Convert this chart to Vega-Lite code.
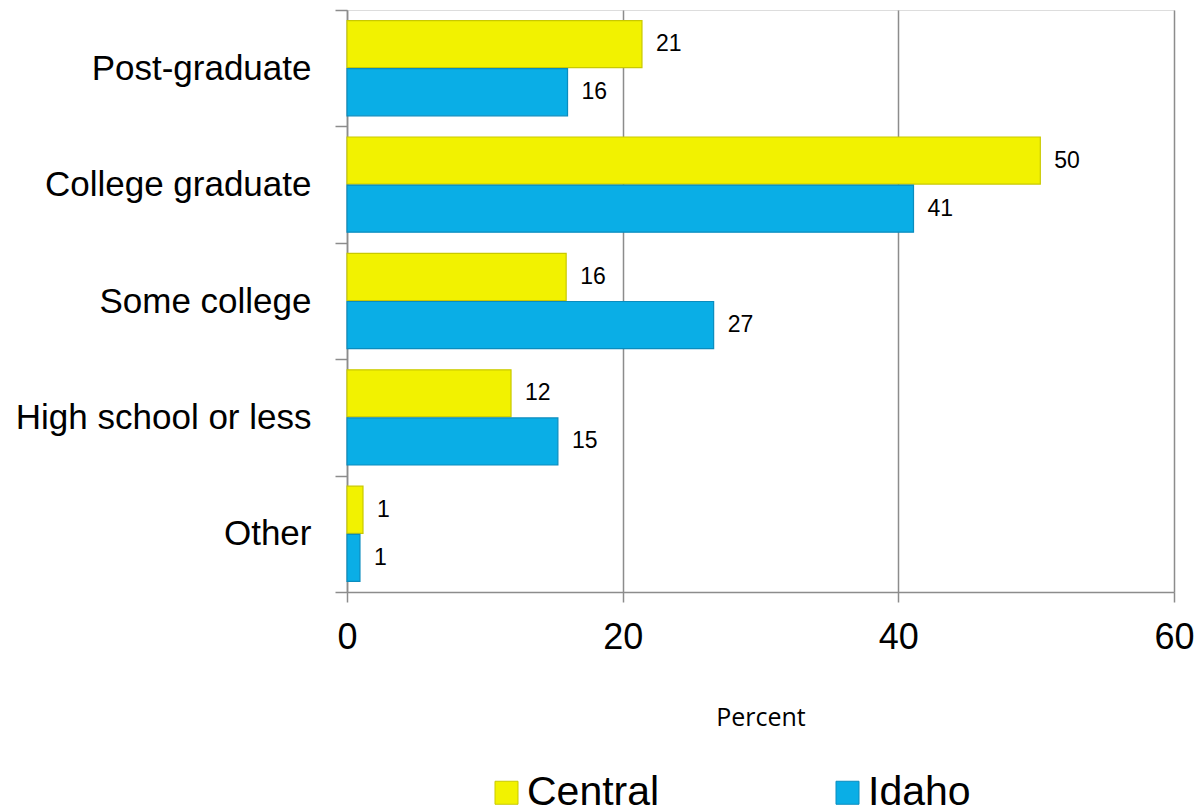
{
  "$schema": "https://vega.github.io/schema/vega-lite/v6.json",
  "width": 827,
  "height": 582,
  "autosize": {"type": "none"},
  "padding": {"left": 347, "top": 10, "right": 24, "bottom": 220},
  "background": "white",
  "data": {
    "values": [
      {"level": "Post-graduate", "group": "Central", "value": 21.4},
      {"level": "Post-graduate", "group": "Idaho", "value": 16.0},
      {"level": "College graduate", "group": "Central", "value": 50.3},
      {"level": "College graduate", "group": "Idaho", "value": 41.1},
      {"level": "Some college", "group": "Central", "value": 15.9},
      {"level": "Some college", "group": "Idaho", "value": 26.6},
      {"level": "High school or less", "group": "Central", "value": 11.9},
      {"level": "High school or less", "group": "Idaho", "value": 15.3},
      {"level": "Other", "group": "Central", "value": 1.16},
      {"level": "Other", "group": "Idaho", "value": 0.94}
    ]
  },
  "encoding": {
    "y": {
      "field": "level",
      "type": "nominal",
      "sort": ["Post-graduate", "College graduate", "Some college", "High school or less", "Other"],
      "scale": {"paddingInner": 0, "paddingOuter": 0},
      "axis": {
        "title": null,
        "tickBand": "extent",
        "tickSize": 12,
        "tickColor": "#8c8c8c",
        "tickWidth": 1.5,
        "domainColor": "#8c8c8c",
        "domainWidth": 1.5,
        "labelFont": "Liberation Sans",
        "labelFontSize": 35,
        "labelColor": "black",
        "labelPadding": 24,
        "labelLimit": 400,
        "grid": false
      }
    },
    "yOffset": {
      "field": "group",
      "type": "nominal",
      "sort": ["Central", "Idaho"],
      "scale": {"paddingInner": 0.02, "paddingOuter": 0.22}
    },
    "x": {
      "field": "value",
      "type": "quantitative",
      "scale": {"domain": [0, 60], "nice": false},
      "axis": {
        "title": "Percent",
        "titleFont": "Open Sans",
        "titleFontSize": 25,
        "titleFontWeight": "normal",
        "titleColor": "black",
        "titlePadding": 50,
        "values": [0, 20, 40, 60],
        "labelFont": "Liberation Sans",
        "labelFontSize": 36,
        "labelColor": "black",
        "labelPadding": 18,
        "labelFlush": false,
        "tickSize": 10,
        "tickColor": "#8c8c8c",
        "tickWidth": 1.5,
        "domainColor": "#8c8c8c",
        "domainWidth": 1.5,
        "grid": true,
        "gridColor": "#8c8c8c",
        "gridWidth": 1.5
      }
    }
  },
  "layer": [
    {
      "mark": {"type": "bar", "strokeWidth": 1.2},
      "encoding": {
        "color": {
          "field": "group",
          "type": "nominal",
          "scale": {"domain": ["Central", "Idaho"], "range": ["#F2F200", "#0AAEE6"]},
          "legend": {
            "title": null,
            "orient": "none",
            "legendX": 139,
            "legendY": 762,
            "direction": "horizontal",
            "columns": 2,
            "columnPadding": 167,
            "symbolType": "square",
            "symbolSize": 529,
            "symbolStrokeWidth": 1,
            "labelFont": "Liberation Sans",
            "labelFontSize": 41,
            "labelColor": "black",
            "labelOffset": 0,
            "labelLimit": 300
          }
        },
        "stroke": {
          "field": "group",
          "type": "nominal",
          "scale": {"domain": ["Central", "Idaho"], "range": ["#C9C900", "#0A8CBE"]},
          "legend": null
        }
      }
    },
    {
      "mark": {
        "type": "text",
        "align": "left",
        "baseline": "middle",
        "dx": 14,
        "font": "Liberation Sans",
        "fontSize": 23,
        "color": "black"
      },
      "encoding": {
        "text": {"field": "value", "type": "quantitative", "format": ".0f"}
      }
    }
  ]
}
